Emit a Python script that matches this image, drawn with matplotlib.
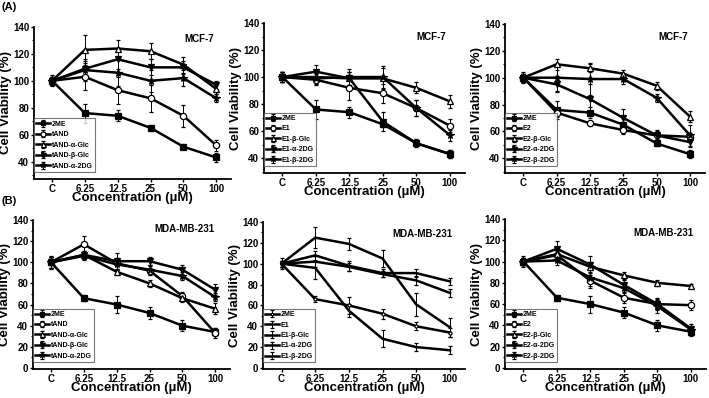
import numpy as np
import matplotlib
matplotlib.use("Agg")
import matplotlib.pyplot as plt
from matplotlib.ticker import MultipleLocator

plt.rcParams.update({
    "font.family": ["Liberation Sans", "DejaVu Sans"],
    "font.weight": "bold",
    "axes.labelweight": "bold",
    "axes.linewidth": 1.3,
    "xtick.major.width": 1.0,
    "ytick.major.width": 1.0,
    "ytick.minor.width": 0.8,
})

conc = ["C", "6.25", "12.5", "25", "50", "100"]

# ---- (A) MCF-7 ----
a1_labels = ["2ME", "tAND", "tAND-α-Glc", "tAND-β-Glc", "tAND-α-2DG"]
a1_vals = [
    [100, 76, 74, 65, 51, 43],
    [100, 103, 93, 87, 74, 52],
    [100, 123, 124, 122, 112, 94],
    [100, 109, 116, 110, 110, 97],
    [100, 108, 106, 100, 102, 87],
]
a1_err = [
    [4, 7, 4, 2, 2, 3],
    [3, 10, 10, 10, 8, 4],
    [3, 11, 6, 6, 6, 4],
    [3, 6, 7, 6, 5, 3],
    [3, 8, 10, 8, 6, 3],
]

a2_labels = ["2ME", "E1", "E1-β-Glc", "E1-α-2DG", "E1-β-2DG"]
a2_vals = [
    [100, 76, 74, 65, 51, 43],
    [100, 98, 92, 88, 77, 64],
    [100, 100, 99, 99, 92, 82],
    [100, 104, 99, 67, 51, 43],
    [100, 99, 100, 100, 77, 57],
]
a2_err = [
    [4, 7, 4, 2, 2, 3],
    [4, 4, 9, 7, 6, 5],
    [4, 4, 5, 8, 4, 5],
    [4, 5, 5, 7, 3, 3],
    [4, 4, 6, 8, 6, 4],
]

a3_labels = ["2ME", "E2", "E2-β-Glc", "E2-α-2DG", "E2-β-2DG"]
a3_vals = [
    [100, 76, 74, 65, 51, 43],
    [100, 74, 66, 61, 57, 56],
    [100, 110, 107, 103, 94, 71],
    [100, 95, 84, 70, 57, 52],
    [100, 100, 99, 99, 85, 57],
]
a3_err = [
    [4, 7, 4, 2, 2, 3],
    [3, 3, 2, 3, 3, 3],
    [3, 4, 3, 3, 3, 4],
    [3, 6, 11, 7, 4, 4],
    [3, 10, 12, 4, 3, 8],
]

# ---- (B) MDA-MB-231 ----
b1_labels = ["2ME", "tAND", "tAND-α-Glc", "tAND-β-Glc", "tAND-α-2DG"]
b1_vals = [
    [100, 66, 60, 52, 40, 34],
    [100, 117, 99, 92, 68, 33],
    [100, 107, 91, 80, 66, 56],
    [100, 107, 101, 101, 93, 74],
    [100, 106, 98, 93, 87, 67],
]
b1_err = [
    [5, 3, 8, 6, 5, 4],
    [6, 8, 5, 4, 4, 5],
    [5, 4, 3, 3, 4, 5],
    [5, 4, 8, 4, 4, 5],
    [5, 4, 5, 4, 4, 4],
]

b2_labels = ["2ME", "E1", "E1-β-Glc", "E1-α-2DG", "E1-β-2DG"]
b2_vals = [
    [100, 66, 60, 52, 40, 34],
    [100, 96, 55, 28, 20, 17],
    [100, 108, 98, 91, 91, 83],
    [100, 125, 119, 105, 61, 39],
    [100, 102, 97, 90, 84, 72],
]
b2_err = [
    [5, 3, 8, 5, 4, 4],
    [3, 11, 6, 8, 4, 4],
    [3, 4, 5, 4, 4, 3],
    [3, 10, 6, 8, 11, 9],
    [3, 5, 4, 3, 4, 4],
]

b3_labels = ["2ME", "E2", "E2-β-Glc", "E2-α-2DG", "E2-β-2DG"]
b3_vals = [
    [100, 66, 60, 52, 40, 34],
    [100, 106, 82, 66, 60, 59],
    [100, 107, 95, 87, 80, 77],
    [100, 112, 97, 78, 60, 37],
    [100, 101, 85, 75, 58, 36],
]
b3_err = [
    [5, 3, 8, 5, 5, 4],
    [3, 4, 5, 5, 5, 5],
    [3, 4, 5, 3, 3, 2],
    [3, 7, 8, 5, 6, 4],
    [3, 4, 10, 5, 6, 3],
]

W, H = 709, 398
fig = plt.figure(figsize=(W / 100, H / 100), dpi=100)

markers = ["s", "o", "^", "v", "*"]
faces = ["black", "white", "white", "black", "black"]
msizes = [4.2, 4.5, 4.5, 4.5, 5.5]


def panel(box, labels, vals, errs, ylim, yticks, cell, tpos, small=False):
    l, t, r, b = box
    ax = fig.add_axes([l / W, 1 - b / H, (r - l) / W, (b - t) / H])
    x = np.arange(len(conc))
    for i, (lab, v, e) in enumerate(zip(labels, vals, errs)):
        ms = 2.2 if small else msizes[i]
        mk = "o" if (small and i == 0) else ("|" if small else markers[i])
        ax.errorbar(x, v, yerr=e, color="black", lw=1.8, marker=mk,
                    ms=ms, mfc="white" if small else faces[i], mec="black",
                    mew=0.9, ecolor="black", elinewidth=0.7, capsize=1.6,
                    capthick=0.7, label=lab, zorder=3)
    ax.set_xlim(-0.55, 5.45)
    ax.set_ylim(*ylim)
    ax.set_xticks(x)
    ax.set_xticklabels(conc)
    ax.set_yticks(yticks)
    ax.yaxis.set_minor_locator(MultipleLocator(10))
    ax.tick_params(axis="both", which="major", direction="out", length=2.5,
                   labelsize=7, pad=1)
    ax.tick_params(axis="y", which="minor", direction="out", length=1.5)
    for s in ("top", "right"):
        ax.spines[s].set_visible(False)
    ax.set_ylabel("Cell Viability (%)", fontsize=9.5, labelpad=0.5)
    ax.set_xlabel("Concentration (µM)", fontsize=9.5, labelpad=-1)
    ax.text(tpos[0], tpos[1], cell, transform=ax.transAxes, ha="center",
            va="center", fontsize=7, fontweight="bold")
    leg = ax.legend(loc="lower left", bbox_to_anchor=(0.0, 0.045),
                    borderaxespad=0, fontsize=5, frameon=True,
                    fancybox=False, edgecolor="#555555", handlelength=2.0,
                    handletextpad=0.2, labelspacing=0.5, borderpad=0.35,
                    markerscale=0.8)
    leg.get_frame().set_linewidth(0.8)
    for line in leg.get_lines():
        line.set_linewidth(1.3)
    return ax


yA = [40, 60, 80, 100, 120, 140]
yB = [0, 20, 40, 60, 80, 100, 120, 140]

panel((34, 27, 231, 179), a1_labels, a1_vals, a1_err, (27, 140), yA, "MCF-7", (0.84, 0.92))
panel((264, 23, 465, 173), a2_labels, a2_vals, a2_err, (29, 140), yA, "MCF-7", (0.83, 0.91))
panel((505, 24, 705, 173), a3_labels, a3_vals, a3_err, (29, 140), yA, "MCF-7", (0.84, 0.91))
panel((33, 220, 230, 369), b1_labels, b1_vals, b1_err, (-1, 140), yB, "MDA-MB-231", (0.77, 0.94))
panel((263, 222, 465, 369), b2_labels, b2_vals, b2_err, (-1, 140), yB, "MDA-MB-231", (0.79, 0.92), small=True)
panel((505, 219, 706, 369), b3_labels, b3_vals, b3_err, (-1, 140), yB, "MDA-MB-231", (0.79, 0.91))

fig.text(2 / W, 1 - 2 / H, "(A)", fontsize=8, fontweight="bold", va="top", ha="left")
fig.text(2 / W, 1 - 196 / H, "(B)", fontsize=8, fontweight="bold", va="top", ha="left")

fig.savefig("out.png", dpi=100, facecolor="white")
